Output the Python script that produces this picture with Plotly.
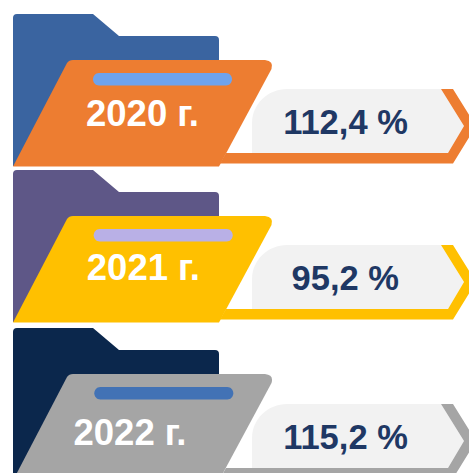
import plotly.graph_objects as go

# Data
years = ["2020 г.", "2021 г.", "2022 г."]
percents = ["112,4 %", "95,2 %", "115,2 %"]

# Styles
back_colors = ["#3A64A0", "#5E5787", "#0B274C"]
front_colors = ["#ED7D31", "#FFC000", "#A5A5A5"]
pill_colors = ["#6FA3EC", "#B9B0E6", "#4272B5"]
panel_color = "#F2F2F2"
value_color = "#1F3864"

# Layout of each block (pixels of the 469x473 canvas)
folder_dy = [0, 156, 314]
panel_dy = [0, 156, 315]
pill_dx = [0, 0.7, 1.3]
year_x = [142.5, 143.3, 130]
year_y = [116.5, 270.5, 436]
value_x = [345.5, 345.3, 345.5]
value_y = [125, 281.5, 440]


def back_path(d):
    return (f"M13,{166+d} L13,{18+d} Q13,{14+d} 17,{14+d} L93,{14+d} L119,{36+d} "
            f"L215,{36+d} Q219,{36+d} 219,{40+d} L219,{166+d} Z")


def front_path(d):
    return (f"M13,{166.5+d} L67,{63+d} Q69,{60+d} 73,{60+d} L265,{60+d} "
            f"Q274,{61+d} 271.5,{69+d} L219,{166.5+d} Z")


def pill_path(d, dx):
    l, r = 93 + dx, 232 + dx
    t, b = 73 + d, 85.5 + d
    m = (t + b) / 2
    return (f"M{l+6},{t} L{r-6},{t} C{r-2.5},{t} {r},{t+3} {r},{m} C{r},{b-3} {r-2.5},{b} {r-6},{b} "
            f"L{l+6},{b} C{l+2.5},{b} {l},{b-3} {l},{m} C{l},{t+3} {l+2.5},{t} {l+6},{t} Z")


def band_path(d):
    return (f"M441,{89+d} L453,{89+d} L476,{126+d} L453,{163.5+d} L220,{163.5+d} "
            f"L226,{153+d} L448,{153+d} L464,{126+d} Z")


def panel_path(d):
    return (f"M252,{153+d} L252,{123+d} C252,{104+d} 268,{89+d} 287,{89+d} L441,{89+d} "
            f"L464,{126+d} L448,{153+d} Z")


shapes = []
for i in range(3):
    fd, pd = folder_dy[i], panel_dy[i]
    for path, color in [
        (back_path(fd), back_colors[i]),
        (panel_path(pd), panel_color),
        (band_path(pd), front_colors[i]),
        (front_path(fd), front_colors[i]),
        (pill_path(fd, pill_dx[i]), pill_colors[i]),
    ]:
        shapes.append(dict(type="path", path=path, xref="x", yref="y",
                           fillcolor=color, line=dict(width=0), layer="below"))

fig = go.Figure()
fig.add_trace(go.Scatter(x=year_x, y=year_y, text=years, mode="text",
                         textposition="middle center", hoverinfo="skip",
                         textfont=dict(family="Liberation Sans", size=36.5, color="white", weight="bold")))
fig.add_trace(go.Scatter(x=value_x, y=value_y, text=percents, mode="text",
                         textposition="middle center", hoverinfo="skip",
                         textfont=dict(family="Liberation Sans", size=34.5, color=value_color, weight="bold")))
fig.update_layout(
    width=469, height=473, margin=dict(l=0, r=0, t=0, b=0),
    paper_bgcolor="white", plot_bgcolor="white", showlegend=False, shapes=shapes,
    xaxis=dict(range=[0, 469], visible=False, fixedrange=True),
    yaxis=dict(range=[473, 0], visible=False, fixedrange=True),
)
fig.write_html("out.html", config=dict(displayModeBar=False),
               post_script="document.body.style.margin='0';document.documentElement.style.overflow='hidden';")
